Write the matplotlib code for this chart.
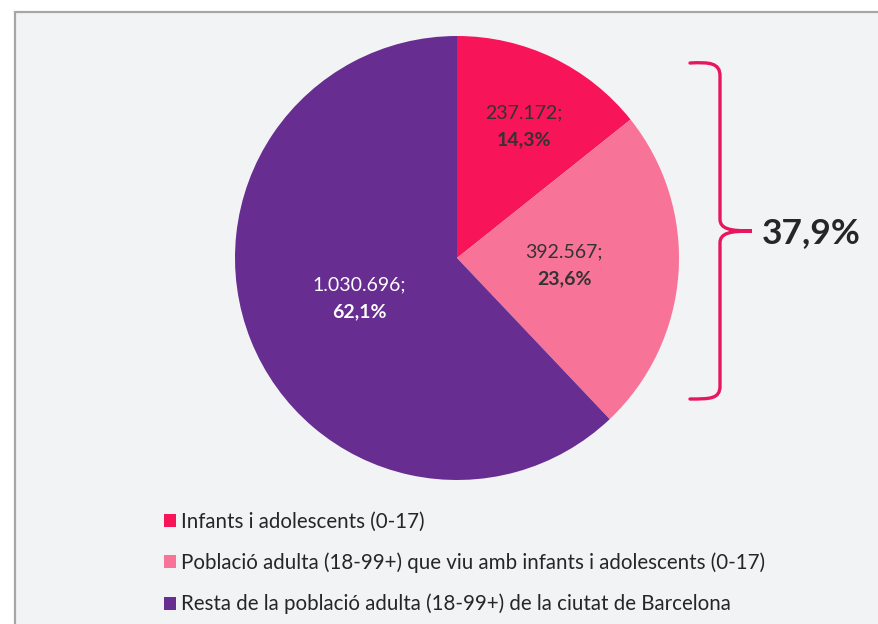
import numpy as np
import matplotlib.pyplot as plt
from matplotlib.path import Path
import matplotlib.patches as patches

plt.rcParams['font.family'] = ['Lato', 'DejaVu Sans']

# Data
categories = [
    "Infants i adolescents (0-17)",
    "Població adulta (18-99+) que viu amb infants i adolescents (0-17)",
    "Resta de la població adulta (18-99+) de la ciutat de Barcelona",
]
population = [237172, 392567, 1030696]
value_labels = ["237.172;", "392.567;", "1.030.696;"]
pct_labels = ["14,3%", "23,6%", "62,1%"]
bracket_label = "37,9%"

colors = ["#f71458", "#f87398", "#672d91"]
text_colors = ["#333333", "#333333", "#ffffff"]
label_radius = [0.66, 0.47, 0.49]

W, H = 879, 624

fig = plt.figure(figsize=(W / 100, H / 100), dpi=100)
ax = fig.add_axes([0, 0, 1, 1])


def py(y):
    """Convert a top-down pixel row to data y."""
    return H - y


# panel background with top/left border
ax.add_patch(patches.Rectangle((15, 0), W - 15, py(12), facecolor="#f2f3f5",
                               edgecolor="none", zorder=0))
ax.plot([15, 15, W], [0, py(12), py(12)], color="#a6a6a6", lw=1.6, zorder=1,
        solid_joinstyle="miter")

cx, cy, r = 457, py(258), 222
wedges, _ = ax.pie(population, colors=colors, startangle=90, counterclock=False,
                   center=(cx, cy), radius=r, wedgeprops=dict(linewidth=0),
                   frame=True)

for w, v, p, tc, lr in zip(wedges, value_labels, pct_labels, text_colors, label_radius):
    ang = np.deg2rad((w.theta1 + w.theta2) / 2)
    x = cx + lr * r * np.cos(ang) + 3
    y = cy + lr * r * np.sin(ang)
    ax.text(x, y + 13.5, v, ha="center", va="center", fontsize=14, color=tc)
    ax.text(x, y - 13.5, p, ha="center", va="center", fontsize=14, color=tc,
            fontweight="bold")

# curly bracket around the first two slices
verts = [
    (690, 63), (710, 62), (720, 63), (720, 76),
    (720, 219),
    (720, 229), (730, 231), (752, 231),
    (730, 231), (720, 233), (720, 243),
    (720, 386),
    (720, 399), (710, 399), (690, 399),
]
codes = [Path.MOVETO, Path.CURVE4, Path.CURVE4, Path.CURVE4,
         Path.LINETO,
         Path.CURVE4, Path.CURVE4, Path.CURVE4,
         Path.CURVE4, Path.CURVE4, Path.CURVE4,
         Path.LINETO,
         Path.CURVE4, Path.CURVE4, Path.CURVE4]
verts = [(x, py(y)) for x, y in verts]
ax.add_patch(patches.PathPatch(Path(verts, codes), facecolor="none",
                               edgecolor="#e8175d", lw=2.4, capstyle="round",
                               zorder=3))
ax.text(762, py(233), bracket_label, ha="left", va="center", fontsize=25.5,
        fontweight="bold", color="#262626")

leg = ax.legend(wedges, categories, loc="upper left",
                bbox_to_anchor=(164, py(512)), bbox_transform=ax.transData,
                frameon=False, fontsize=14.8, handlelength=0.6, handleheight=0.6,
                handletextpad=0.25, labelspacing=1.0, borderpad=0,
                borderaxespad=0, labelcolor="#262626")

ax.set_xlim(0, W)
ax.set_ylim(0, H)
ax.set_aspect("equal")
ax.axis("off")

fig.savefig("out.png", dpi=100, facecolor="white")
